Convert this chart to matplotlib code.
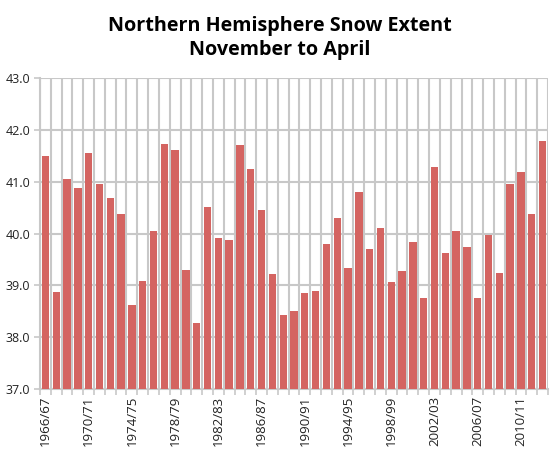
import numpy as np
import matplotlib.pyplot as plt

seasons = [f"{y}/{(y + 1) % 100:02d}" for y in range(1966, 2013)]
extent = [41.50, 38.88, 41.06, 40.88, 41.56, 40.96, 40.69, 40.38, 38.63, 39.09,
          40.04, 41.73, 41.62, 39.30, 38.28, 40.52, 39.92, 39.88, 41.70, 41.25,
          40.46, 39.21, 38.43, 38.51, 38.86, 38.90, 39.80, 40.29, 39.34, 40.81,
          39.71, 40.11, 39.07, 39.28, 39.84, 38.76, 41.29, 39.63, 40.04, 39.73,
          38.76, 39.98, 39.24, 40.96, 41.19, 40.38, 41.79]

plt.rcParams['font.family'] = ['Open Sans', 'DejaVu Sans']

fig = plt.figure(figsize=(5.59, 4.51), dpi=100)
ax = fig.add_axes([40 / 559, 1 - 389 / 451, 508 / 559, 311 / 451])

x = np.arange(len(extent))
ax.bar(x, extent, width=0.68, bottom=0, color='#d46461', zorder=3)
ax.set_ylim(37, 43)
ax.set_xlim(-0.5, len(extent) - 0.5)

ax.set_yticks(np.arange(37, 43.1, 1))
ax.set_yticklabels([f"{v:.1f}" for v in np.arange(37, 43.1, 1)], fontsize=9, color='#222222')

ax.set_xticks(x[::4])
ax.set_xticklabels(seasons[::4], rotation=90, fontsize=9.5, color='#222222')
ax.set_xticks(np.arange(-0.5, len(extent)), minor=True)
ax.tick_params(axis='x', which='major', length=0, pad=5)
ax.tick_params(axis='x', which='minor', length=4, color='#c8c8c8', width=1.2)
ax.tick_params(axis='y', length=4, color='#c8c8c8', width=1.2, pad=3)

ax.grid(axis='y', color='#c8c8c8', linewidth=1.5, zorder=0)
ax.grid(axis='x', which='minor', color='#c8c8c8', linewidth=1.5, zorder=0)

for s in ['top', 'right']:
    ax.spines[s].set_visible(False)
for s in ['left', 'bottom']:
    ax.spines[s].set_color('#c8c8c8')
    ax.spines[s].set_linewidth(1.5)

fig.text(0.5, 1 - 38 / 451, "Northern Hemisphere Snow Extent\nNovember to April",
         ha='center', va='center', fontsize=14.2, fontweight='bold', linespacing=1.3)

fig.savefig("out.png", dpi=100)
